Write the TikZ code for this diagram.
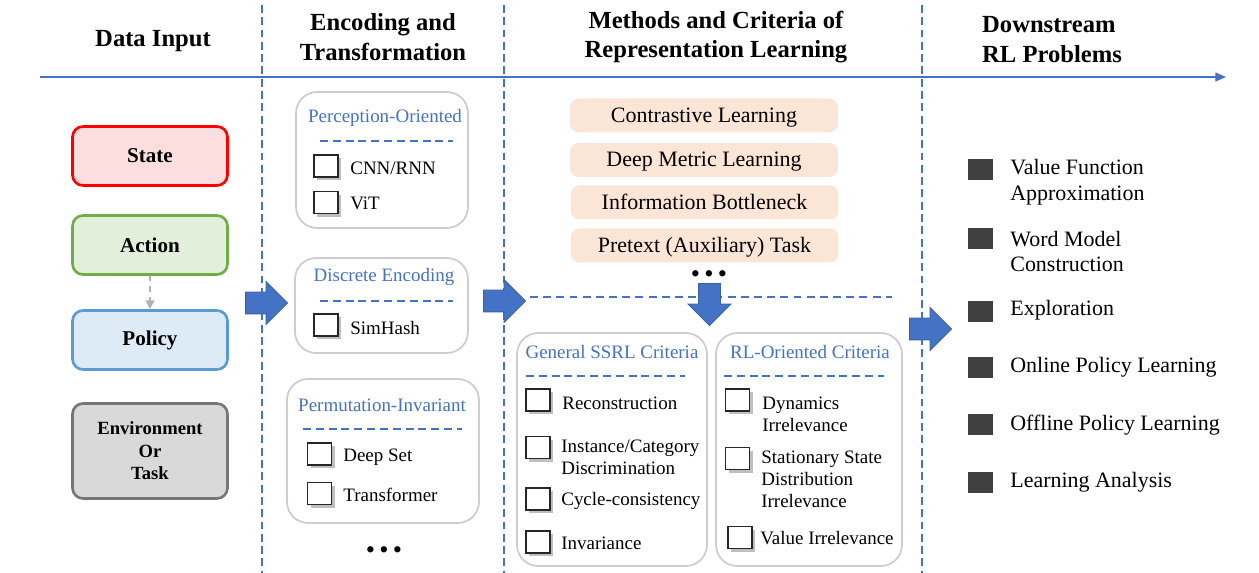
\documentclass[tikz,border=0pt]{standalone}
\usepackage{fontspec}
\setmainfont{Liberation Serif}
\usetikzlibrary{positioning,shapes.arrows,shadows,arrows.meta}

\definecolor{lineblue}{RGB}{68,114,196}
\definecolor{statefill}{RGB}{251,222,221}
\definecolor{stateline}{RGB}{255,0,0}
\definecolor{actfill}{RGB}{226,239,218}
\definecolor{actline}{RGB}{112,173,71}
\definecolor{polfill}{RGB}{221,235,247}
\definecolor{polline}{RGB}{91,155,213}
\definecolor{envfill}{RGB}{217,217,217}
\definecolor{envline}{RGB}{118,118,118}
\definecolor{methfill}{RGB}{251,229,214}
\definecolor{boxline}{RGB}{205,205,205}
\definecolor{bulletgray}{RGB}{64,64,64}

\tikzset{
  heading/.style={font=\fontsize{14}{17}\selectfont\bfseries, align=center},
  inputbox/.style={draw, line width=1.5pt, rounded corners=6pt, minimum width=3.1cm, minimum height=1.18cm, font=\fontsize{12}{14}\selectfont\bfseries},
  groupbox/.style={draw=boxline, line width=1pt, rounded corners=12pt},
  grouptitle/.style={text=lineblue, font=\fontsize{10.8}{13}\selectfont},
  titlesep/.style={lineblue, line width=0.9pt, dash pattern=on 4.5pt off 2.8pt},
  chkbox/.style={draw=black!85, line width=1pt, fill=white, minimum width=0.48cm, minimum height=0.44cm, inner sep=0pt, drop shadow={shadow xshift=1.8pt, shadow yshift=-1.8pt, opacity=.5}},
  item/.style={font=\fontsize{10.8}{12.6}\selectfont, anchor=west, align=left, inner sep=0pt},
  method/.style={fill=methfill, rounded corners=5pt, minimum width=5.36cm, minimum height=0.68cm, text depth=0.1ex, font=\fontsize{12.5}{15}\selectfont},
  bigarrow/.style={single arrow, fill=lineblue, draw=lineblue!85!black, line width=0.5pt, inner xsep=0pt, inner ysep=0.21cm, minimum height=0.84cm, single arrow head extend=0.21cm},
  colsep/.style={lineblue, line width=0.9pt, dash pattern=on 4.5pt off 2.5pt},
  bullet/.style={fill=bulletgray, minimum width=0.5cm, minimum height=0.42cm, inner sep=0pt},
  downitem/.style={font=\fontsize{12.5}{14.7}\selectfont, anchor=west, align=left, inner sep=0pt},
  dots/.style={font=\fontsize{15}{15}\selectfont, inner sep=0pt}
}
\newcommand{\threedots}{\textbullet\hspace{2.4pt}\textbullet\hspace{2.4pt}\textbullet}

\begin{document}
\begin{tikzpicture}[x=0.02cm,y=-0.02cm]
\useasboundingbox (0,0) rectangle (1259,573);

% axis and column borders
\draw[lineblue, line width=0.8pt, -{Triangle[length=6pt,width=5pt]}] (40,77) -- (1226,77);
\foreach \xx in {262,504,922}
  \draw[colsep] (\xx,5) -- (\xx,573);

\node[heading] (hdata) at (153,41) {Data Input};
\node[heading] (henc) at (383,37) {Encoding and\\Transformation};
\node[heading] (hmeth) at (716,37) {Methods and Criteria of\\Representation Learning};
\node[heading, align=left, anchor=west] (hdown) at (976,40) {Downstream\\RL Problems};

% data input
\node[inputbox, draw=stateline, fill=statefill] (state) at (150,156) {State};
\node[inputbox, draw=actline, fill=actfill] (action) at (150,245) {Action};
\node[inputbox, draw=polline, fill=polfill] (policy) at (150,340) {Policy};
\node[inputbox, draw=envline, fill=envfill, minimum height=1.9cm, align=center,
      font=\fontsize{10.6}{12.8}\selectfont\bfseries] (env) at (150,451) {Environment\\Or\\Task};
\draw[black!30, line width=0.9pt, dashed, -{Triangle[length=5pt,width=5pt]}] (action) -- (policy);

% encoding and transformation
\node[groupbox, minimum width=3.44cm, minimum height=2.72cm] (perc) at (382,160) {};
\node[grouptitle] (perct) at (385,118) {Perception-Oriented};
\draw[titlesep] (320,141) -- (453,141);
\node[chkbox] (cnncb) at (326,166) {};
\node[item] (cnn) at (350,168) {CNN/RNN};
\node[chkbox] (vitcb) at (326,202.5) {};
\node[item] (vit) at (350,203) {ViT};

\node[groupbox, minimum width=3.46cm, minimum height=1.9cm] (disc) at (381.5,305.5) {};
\node[grouptitle] (disct) at (384,277) {Discrete Encoding};
\draw[titlesep] (320,301) -- (453,301);
\node[chkbox] (simcb) at (326,325) {};
\node[item] (sim) at (350,328) {SimHash};

\node[groupbox, minimum width=3.84cm, minimum height=2.88cm] (perm) at (383,451) {};
\node[grouptitle] (permt) at (382,405) {Permutation-Invariant};
\draw[titlesep] (303,429) -- (462,429);
\node[chkbox] (setcb) at (319.5,454) {};
\node[item] (set) at (343,457) {Deep Set};
\node[chkbox] (trfcb) at (319.5,493.5) {};
\node[item] (trf) at (343,495) {Transformer};
\node[dots] (encdots) at (384,553) {\threedots};

% methods and criteria
\node[method] (contr) at (704,115.5) {Contrastive Learning};
\node[method] (metric) at (704,160) {Deep Metric Learning};
\node[method] (infob) at (704.5,202.5) {Information Bottleneck};
\node[method] (pretext) at (704.5,245.5) {Pretext (Auxiliary) Task};
\node[dots] (methdots) at (709,277) {\threedots};
\draw[lineblue, line width=0.9pt, dash pattern=on 4.5pt off 3pt] (530,297) -- (892,297);

\node[groupbox, minimum width=3.8cm, minimum height=4.66cm] (ssrl) at (612,449.5) {};
\node[grouptitle] (ssrlt) at (612,352) {General SSRL Criteria};
\draw[titlesep] (526,376) -- (685,376);
\node[chkbox] (reccb) at (538,400) {};
\node[item] (rec) at (562,403) {Reconstruction};
\node[chkbox] (inscb) at (538,447.5) {};
\node[item] (ins) at (561,457.5) {Instance/Category\\Discrimination};
\node[chkbox] (cyccb) at (538,499) {};
\node[item] (cyc) at (561,501) {Cycle-consistency};
\node[chkbox] (invcb) at (538,542) {};
\node[item] (inv) at (561,543) {Invariance};

\node[groupbox, minimum width=3.72cm, minimum height=4.66cm] (rlo) at (809,449.5) {};
\node[grouptitle] (rlot) at (810,352) {RL-Oriented Criteria};
\draw[titlesep] (724,376) -- (884,376);
\node[chkbox] (dyncb) at (737.5,400) {};
\node[item] (dyn) at (762,414) {Dynamics\\Irrelevance};
\node[chkbox] (stacb) at (737.5,458.5) {};
\node[item] (sta) at (761,479.5) {Stationary State\\Distribution\\Irrelevance};
\node[chkbox] (valcb) at (740,537.5) {};
\node[item] (val) at (760,538) {Value Irrelevance};

% block arrows between columns
\node[bigarrow] (arr1) at (261,303) {};
\node[bigarrow] (arr2) at (499,301) {};
\node[bigarrow, rotate=-90] (arr3) at (709.5,299) {};
\node[bigarrow] (arr4) at (925,329) {};

% downstream problems
\foreach \sy/\ty/\txt [count=\i] in {169.5/182/{Value Function\\Approximation},
    238.5/251.5/{Word Model\\Construction}, 311.5/310/{Exploration},
    367.5/367/{Online Policy Learning}, 425/425/{Offline Policy Learning},
    482.5/482/{Learning Analysis}}
{
  \node[bullet] (sq\i) at (980.5,\sy) {};
  \node[downitem] (rl\i) at (1010,\ty) {\txt};
}
\end{tikzpicture}
\end{document}
